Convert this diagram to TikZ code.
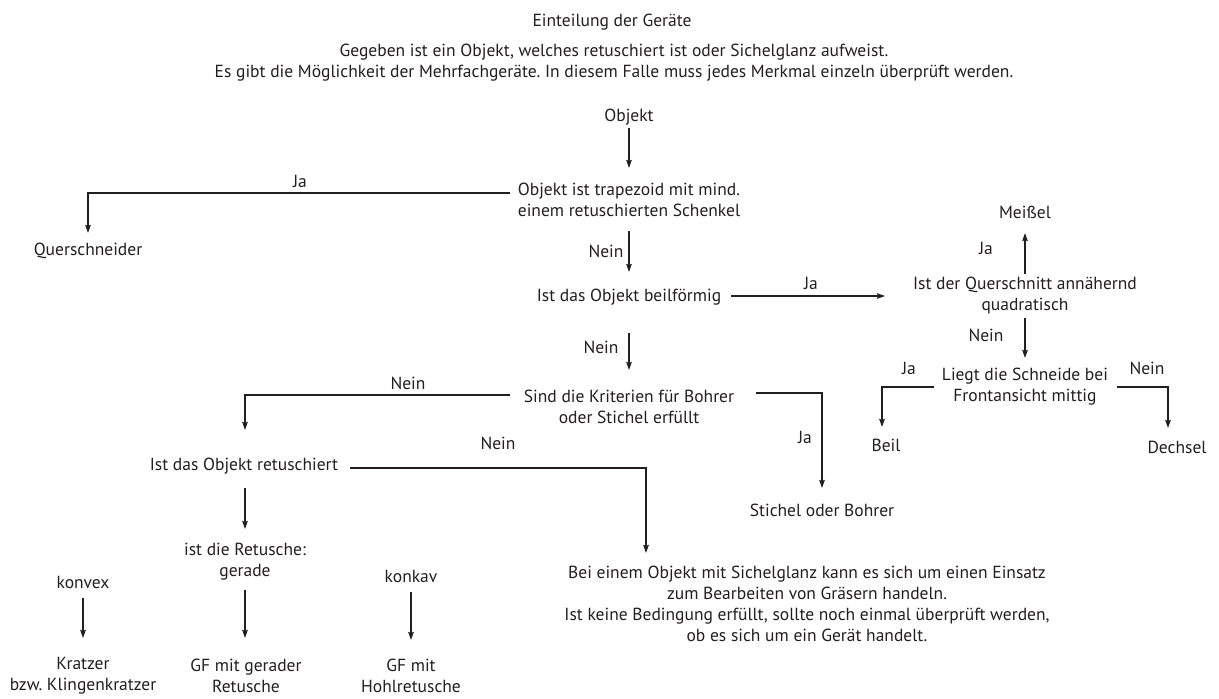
\documentclass[tikz,border=0pt]{standalone}
\usepackage{fontspec}
\setmainfont{PT Sans}
\usetikzlibrary{arrows.meta,calc}
\definecolor{ink}{RGB}{35,31,32}
\begin{document}
\frenchspacing
\begin{tikzpicture}[x=1pt,y=-1pt,
  lbl/.style={inner sep=0pt, align=center, text=ink, font=\fontsize{17.5}{21}\selectfont},
  arr/.style={draw=ink, line width=1.5pt, -{Stealth[length=8pt,width=5.5pt,inset=1pt]}}]
\fill[white] (0,0) rectangle (1219,699);
\useasboundingbox (0,0) rectangle (1219,699);
% texts
\node[lbl] (title) at (612,22) {Einteilung der Geräte};
\node[lbl] (intro) at (614,62.5) {Gegeben ist ein Objekt, welches retuschiert ist oder Sichelglanz aufweist.\\Es gibt die Möglichkeit der Mehrfachgeräte. In diesem Falle muss jedes Merkmal einzeln überprüft werden.};
\node[lbl] (obj) at (629,117) {Objekt};
\node[lbl] (trap) at (629,200) {Objekt ist trapezoid mit mind.\\einem retuschierten Schenkel};
\node[lbl] (quer) at (88,251) {Querschneider};
\node[lbl] (beil) at (629,297) {Ist das Objekt beilförmig};
\node[lbl] (quad) at (1025,296) {Ist der Querschnitt annähernd\\quadratisch};
\node[lbl] (meissel) at (1025,212) {Meißel};
\node[lbl] (schneide) at (1025,387) {Liegt die Schneide bei\\Frontansicht mittig};
\node[lbl] (beilN) at (886,445) {Beil};
\node[lbl] (dechsel) at (1177,447) {Dechsel};
\node[lbl] (sind) at (629,407) {Sind die Kriterien für Bohrer\\oder Stichel erfüllt};
\node[lbl] (stichel) at (822,510) {Stichel oder Bohrer};
\node[lbl] (retu) at (244,466) {Ist das Objekt retuschiert};
\node[lbl] (retusche) at (245,562) {ist die Retusche:\\gerade};
\node[lbl] (konvex) at (83,582) {konvex};
\node[lbl] (konkav) at (411,576) {konkav};
\node[lbl] (kratzer) at (83,676) {Kratzer\\bzw. Klingenkratzer};
\node[lbl] (gfg) at (246,676) {GF mit gerader\\Retusche};
\node[lbl] (gfh) at (411,676) {GF mit\\Hohlretusche};
\node[lbl] (sichel) at (807,604) {Bei einem Objekt mit Sichelglanz kann es sich um einen Einsatz\\zum Bearbeiten von Gräsern handeln.\\Ist keine Bedingung erfüllt, sollte noch einmal überprüft werden,\\ob es sich um ein Gerät handelt.};
% edge labels
\node[lbl] (ja1) at (300,181) {Ja};
\node[lbl] (nein1) at (606,251) {Nein};
\node[lbl] (ja2) at (811,283) {Ja};
\node[lbl] (ja3) at (986,248) {Ja};
\node[lbl] (nein2) at (986,335) {Nein};
\node[lbl] (ja4) at (909,368) {Ja};
\node[lbl] (nein3) at (1147,368) {Nein};
\node[lbl] (nein4) at (601,347) {Nein};
\node[lbl] (nein5) at (408,383) {Nein};
\node[lbl] (nein6) at (498,443) {Nein};
\node[lbl] (ja5) at (805,437) {Ja};
% connectors
\draw[arr] ($(obj)+(0,11)$) -- ($(trap)+(0,-32)$);
\draw[arr] ($(trap)+(-119,-7)$) -| ($(quer)+(0,-18)$);
\draw[arr] ($(trap)+(0,31)$) -- ($(beil)+(0,-25)$);
\draw[arr] ($(beil)+(102,-1)$) -- ($(quad)+(-140,0)$);
\draw[arr] ($(quad)+(0,-22)$) -- ($(meissel)+(0,21)$);
\draw[arr] ($(quad)+(0,22)$) -- ($(schneide)+(0,-29)$);
\draw[arr] ($(schneide)+(-91,0)$) -| ($(beilN)+(-4,-18)$);
\draw[arr] ($(schneide)+(92,0)$) -| ($(dechsel)+(-9,-19)$);
\draw[arr] ($(beil)+(0,36)$) -- ($(sind)+(0,-37)$);
\draw[arr] ($(sind)+(-119,-12)$) -| ($(retu)+(1,-36)$);
\draw[arr] ($(sind)+(127,-14)$) -| ($(stichel)+(0,-22)$);
\draw[arr] ($(retu)+(106,2)$) -| ($(sichel)+(-161,-51)$);
\draw[arr] ($(retu)+(1,22)$) -- ($(retusche)+(0,-33)$);
\draw[arr] ($(konvex)+(0,16)$) -- ($(kratzer)+(0,-38)$);
\draw[arr] ($(retusche)+(0,28)$) -- ($(gfg)+(-1,-38)$);
\draw[arr] ($(konkav)+(0,16)$) -- ($(gfh)+(0,-36)$);
\end{tikzpicture}
\end{document}
